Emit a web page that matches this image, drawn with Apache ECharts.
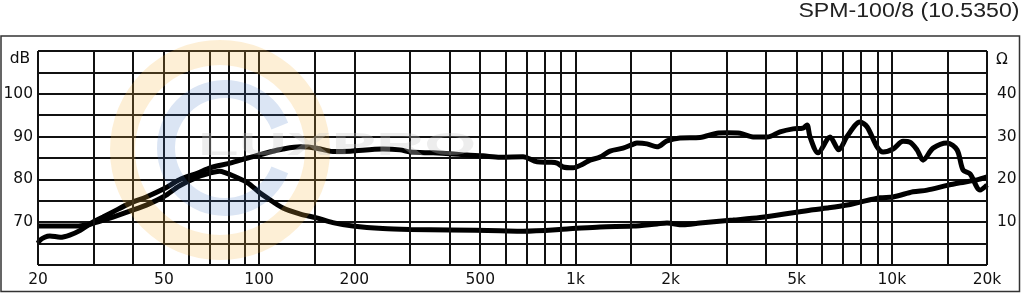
<!DOCTYPE html>
<html>
<head>
<meta charset="utf-8">
<script src="https://cdn.jsdelivr.net/npm/echarts@6/dist/echarts.min.js"></script>
<style>
html,body{margin:0;padding:0;background:#fff;}
#chart{width:1024px;height:293px;}
</style>
</head>
<body>
<div id="chart"></div>
<script>
// ---- data ----
const titleText = 'SPM-100/8 (10.5350)';

// SPL curve (left axis, dB)
const splFreq = [20,20.3,21,21.8,23.5,25.2,27.2,29.8,32.1,34.5,39,44,50,56,64,70,81,92,100,108,119,135,152,171,194,246,279,300,355,401,454,510,578,683,756,831,875,914,983,1057,1112,1196,1286,1414,1520,1565,1683,1810,1947,2140,2476,2802,3014,3314,3643,4034,4434,4874,5242,5397,5516,5847,6380,6800,7220,7935,8350,8985,9387,10094,10855,11421,12019,12557,13507,14960,16083,16802,17678,19009,20000];
const splDb   = [65.1,65.8,66.5,66.8,66.5,67.0,68.1,70.0,71.2,72.4,74.4,75.9,77.8,79.9,81.5,82.7,83.8,85.0,85.7,86.4,87.1,87.6,87.3,86.5,86.6,87.1,86.9,86.4,86.2,86.0,85.7,85.5,85.2,85.3,84.1,84.0,83.8,82.9,82.7,83.6,84.5,85.2,86.6,87.3,88.2,88.5,88.3,87.6,89.0,89.7,89.8,90.8,90.9,90.8,89.9,89.9,91.1,91.8,92.0,92.7,89.9,86.2,89.9,86.9,90.0,93.4,92.3,87.6,86.4,87.1,88.9,88.7,86.9,84.5,87.3,88.5,86.9,82.2,81.3,77.5,78.7];

// Impedance curve (right axis, ohm)
const impFreq = [20,25,28.5,30,32,34.5,39,44,50,56,64,70,75,78,83,92,100,106,119,135,152,171,198,246,300,401,578,683,940,1196,1520,1810,1947,2188,2476,3149,3834,4874,5638,6243,7220,7935,9183,10094,11673,12930,14960,16438,18598,20000];
const impOhm  = [9.1,9.1,9.3,9.8,10.4,11.2,12.6,14.0,16.0,18.5,20.6,21.5,21.9,21.6,20.8,19.2,17.0,15.7,13.3,11.9,11.0,9.9,9.1,8.5,8.3,8.2,8.0,7.9,8.4,8.9,9.1,9.6,9.8,9.4,9.8,10.5,11.1,12.2,12.9,13.3,14.0,14.7,15.7,15.9,17.1,17.5,18.6,19.2,19.9,20.6];

// axis ticks / labels
const gridFreqs  = [20,30,40,50,60,70,80,90,100,150,200,300,400,500,600,700,800,900,1000,1500,2000,3000,4000,5000,6000,7000,8000,9000,10000,15000,20000];
const labelFreqs = [20,50,100,200,500,1000,2000,5000,10000,20000];
const labelTexts = ['20','50','100','200','500','1k','2k','5k','10k','20k'];
const dbTicks  = [70,80,90,100];
const ohmTicks = [10,20,30,40];
const dbUnit = 'dB';
const ohmUnit = 'Ω';
const watermarkText = 'LUXPRO';

// ---- chart ----
const FONT = 'DejaVu Sans';
const INK = '#111';
const chart = echarts.init(document.getElementById('chart'), null, {renderer: 'canvas'});

const splData = splFreq.map((f, i) => [f, splDb[i]]);
const impData = impFreq.map((f, i) => [f, impOhm[i]]);

const markLineData = gridFreqs.map(f => {
  const i = labelFreqs.indexOf(f);
  return {
    xAxis: f,
    label: i >= 0 ? {
      show: true, position: 'start', distance: 7, formatter: labelTexts[i],
      fontFamily: FONT, fontSize: 15.5, color: INK
    } : {show: false}
  };
});

const option = {
  animation: false,
  backgroundColor: '#fff',
  grid: {left: 38, right: 37, top: 51, bottom: 28, containLabel: false},
  xAxis: {
    type: 'log', logBase: 10, min: 20, max: 20000,
    axisLine: {show: false}, axisTick: {show: false},
    axisLabel: {show: false}, splitLine: {show: false}
  },
  yAxis: [
    {
      type: 'value', min: 60, max: 110, interval: 5, position: 'left',
      axisLine: {show: false}, axisTick: {show: false},
      splitLine: {show: true, lineStyle: {color: INK, width: 2}},
      axisLabel: {
        formatter: v => dbTicks.includes(v) ? String(v) : '',
        margin: 5, fontFamily: FONT, fontSize: 15.5, color: INK
      }
    },
    {
      type: 'value', min: 0, max: 50, interval: 5, position: 'right',
      axisLine: {show: false}, axisTick: {show: false},
      splitLine: {show: false},
      axisLabel: {
        formatter: v => ohmTicks.includes(v) ? String(v) : '',
        margin: 10, fontFamily: FONT, fontSize: 15.5, color: INK
      }
    }
  ],
  series: [
    {
      type: 'line', data: [], z: 1, silent: true,
      markLine: {
        silent: true, symbol: ['none', 'none'], animation: false,
        lineStyle: {color: INK, width: 2, type: 'solid'},
        emphasis: {disabled: true},
        label: {show: false},
        data: markLineData
      }
    },
    {
      name: 'SPL', type: 'line', yAxisIndex: 0, data: splData,
      showSymbol: false, smooth: 0.3, z: 3,
      lineStyle: {color: '#000', width: 5}
    },
    {
      name: 'Impedance', type: 'line', yAxisIndex: 1, data: impData,
      showSymbol: false, smooth: 0.3, z: 3,
      lineStyle: {color: '#000', width: 5}
    }
  ],
  graphic: {
    elements: [
      {type: 'rect', z: 50, silent: true,
       shape: {x: 1, y: 36, width: 1018.5, height: 255.5},
       style: {fill: 'none', stroke: '#333', lineWidth: 1.5}},
      {type: 'ring', z: 100, silent: true,
       shape: {cx: 220, cy: 150, r: 110, r0: 85},
       style: {fill: 'rgba(245,180,70,0.22)'}},
      {type: 'sector', z: 100, silent: true,
       shape: {cx: 225, cy: 148, r: 68, r0: 50, startAngle: 0.38, endAngle: Math.PI * 2 - 0.38, clockwise: true},
       style: {fill: 'rgba(74,124,200,0.2)'}},
      {type: 'text', z: 101, silent: true, x: 337, y: 147, scaleX: 2.19,
       style: {text: watermarkText, font: 'bold 30.5px "Liberation Sans"', fill: 'rgba(200,200,200,0.32)',
               textAlign: 'center', textVerticalAlign: 'middle'}},
      {type: 'text', z: 60, silent: true, x: 20, y: 58.5,
       style: {text: dbUnit, font: '15.5px "DejaVu Sans"', fill: INK, textAlign: 'center', textVerticalAlign: 'middle'}},
      {type: 'text', z: 60, silent: true, x: 1002, y: 60,
       style: {text: ohmUnit, font: '15.5px "DejaVu Sans"', fill: INK, textAlign: 'center', textVerticalAlign: 'middle'}},
      {type: 'text', z: 60, silent: true, x: 1019.5, y: 12, scaleX: 1.186,
       style: {text: titleText, font: '19.5px "Liberation Sans"', fill: '#222', textAlign: 'right', textVerticalAlign: 'middle'}}
    ]
  }
};
chart.setOption(option);
</script>
</body>
</html>
